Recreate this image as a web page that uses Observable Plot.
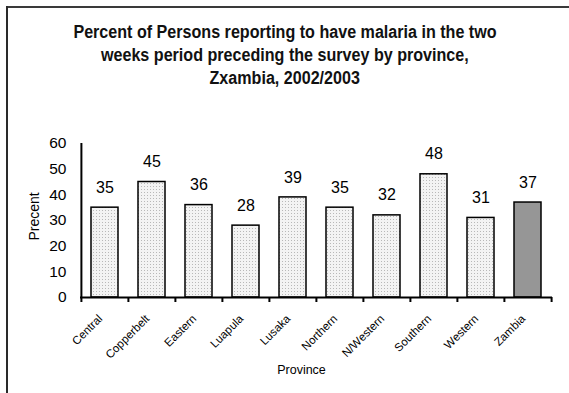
<!DOCTYPE html>
<html>
<head>
<meta charset="utf-8">
<script src="https://cdn.jsdelivr.net/npm/d3@7"></script>
<script src="https://cdn.jsdelivr.net/npm/@observablehq/plot@0.6"></script>
<style>
  html, body { margin: 0; padding: 0; background: #fff; }
  #wrap { position: relative; width: 569px; height: 393px; overflow: hidden; background: #fff;
          font-family: "Liberation Sans", Arial, sans-serif; }
  .bTop { position: absolute; left: 6px; top: 6px; width: 563px; height: 2px; background: #3a3a3a; }
  .bLeft { position: absolute; left: 6px; top: 6px; width: 2px; height: 387px; background: #2a2a2a; }
  #title { box-sizing: border-box; height: 90px; padding-top: 21px; text-align: center;
           font-weight: bold; font-size: 17.5px; line-height: 23px; color: #111; }
  #title span { display: inline-block; transform: scaleX(0.92); transform-origin: 50% 50%; white-space: nowrap; }
  #chart svg { display: block; }
</style>
</head>
<body>
<svg width="0" height="0" style="position:absolute">
  <defs>
    <pattern id="dots" width="3" height="3" patternUnits="userSpaceOnUse">
      <rect width="3" height="3" fill="#f3f3f3"></rect>
      <rect width="1" height="1" fill="#b8b8b8"></rect>
    </pattern>
  </defs>
</svg>
<div id="wrap">
  <div id="title"></div>
  <div id="chart"></div>
  <div class="bTop"></div>
  <div class="bLeft"></div>
</div>
<script>
const titleLines = ["Percent of Persons reporting to have malaria in the two", "weeks period preceding the survey by province,", "Zxambia, 2002/2003"];
const provinces = ["Central", "Copperbelt", "Eastern", "Luapula", "Lusaka", "Northern", "N/Western", "Southern", "Western", "Zambia"];
const values = [35, 45, 36, 28, 39, 35, 32, 48, 31, 37];
const yTicks = [0, 10, 20, 30, 40, 50, 60];
const yLabel = "Precent";
const xLabel = "Province";
const totalName = "Zambia";

const titleEl = document.getElementById("title");
titleLines.forEach((t, i) => {
  const s = document.createElement("span");
  s.textContent = t;
  titleEl.appendChild(s);
  if (i < titleLines.length - 1) titleEl.appendChild(document.createElement("br"));
});

const data = provinces.map((p, i) => ({province: p, value: values[i]}));
const font = "'Liberation Sans', Arial, sans-serif";

const W = 569, H = 303, mL = 80, mR = 17, mT = 53, mB = 96;
const step = (W - mL - mR) / provinces.length;
const frameH = H - mT - mB;

const chart = Plot.plot({
  width: W,
  height: H,
  marginLeft: mL,
  marginRight: mR,
  marginTop: mT,
  marginBottom: mB,
  style: {fontFamily: font, color: "#000", background: "transparent"},
  x: {domain: provinces, paddingInner: 0.42, paddingOuter: 0.21, axis: null},
  y: {domain: [0, 60], axis: null},
  marks: [
    Plot.barY(data.filter(d => d.province !== totalName), {x: "province", y: "value", fill: "url(#dots)", stroke: "#000", strokeWidth: 1.5}),
    Plot.barY(data.filter(d => d.province === totalName), {x: "province", y: "value", fill: "#969696", stroke: "#000", strokeWidth: 1.5}),
    Plot.text(data, {x: "province", y: "value", text: d => String(d.value), dy: -20, fontSize: 16, fill: "#000"}),
    Plot.ruleY([0], {strokeWidth: 2, stroke: "#000"}),
    Plot.ruleX(provinces, {x: d => d, dx: -step / 2, insetTop: frameH, insetBottom: -5, strokeWidth: 2, stroke: "#000"}),
    Plot.ruleX([provinces[provinces.length - 1]], {x: d => d, dx: step / 2, insetTop: frameH, insetBottom: -5, strokeWidth: 2, stroke: "#000"}),
    Plot.ruleX([provinces[0]], {x: d => d, dx: -step / 2, y1: 0, y2: 60, strokeWidth: 2, stroke: "#000"}),
    Plot.ruleY(yTicks, {y: d => d, x1: provinces[0], x2: provinces[0], dx: -step / 2, insetLeft: -6, strokeWidth: 2, stroke: "#000"}),
    Plot.text(yTicks, {y: d => d, text: d => String(d), frameAnchor: "left", dx: -14, textAnchor: "end", fontSize: 15.5, fill: "#000"}),
    Plot.text(provinces, {x: d => d, text: d => d, frameAnchor: "bottom", rotate: -45, textAnchor: "end", dx: -2, dy: 22, fontSize: 11.5, fill: "#000"}),
    Plot.text([xLabel], {frameAnchor: "bottom", text: d => d, dx: -15, dy: 76, fontSize: 12.5, fill: "#000"}),
    Plot.text([yLabel], {frameAnchor: "left", text: d => d, rotate: -90, dx: -46, dy: 20, fontSize: 14, fill: "#000"})
  ]
});
document.getElementById("chart").appendChild(chart);
</script>
</body>
</html>
